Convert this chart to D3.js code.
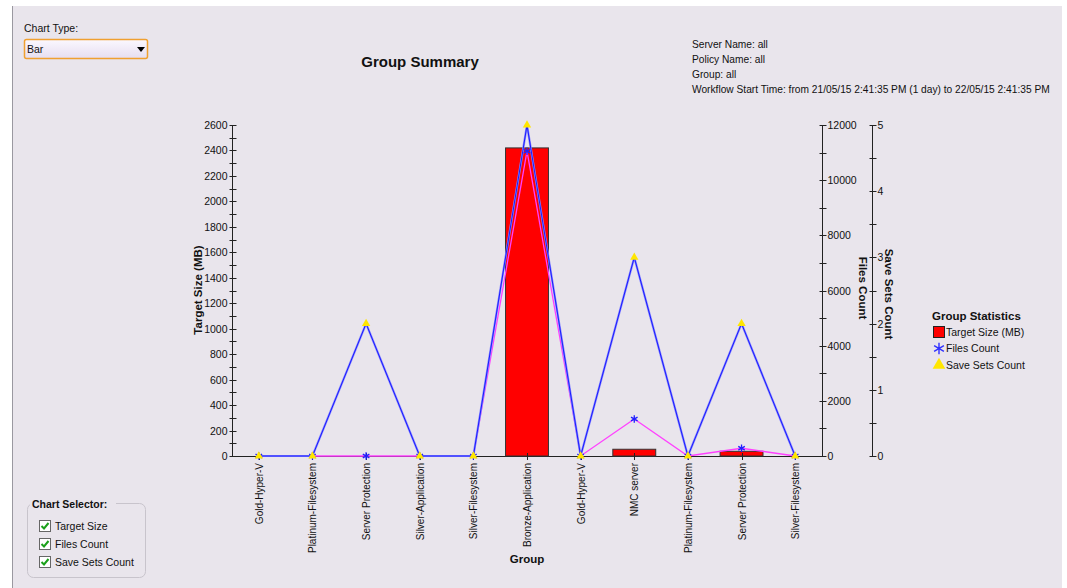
<!DOCTYPE html>
<html>
<head>
<meta charset="utf-8">
<script src="https://cdn.jsdelivr.net/npm/d3@7"></script>
<style>
  body { margin: 0; background: #fff; }
  svg text { font-family: "Liberation Sans", Arial, sans-serif; font-size: 11px; fill: #111; }
</style>
</head>
<body>
<svg id="chart" width="1067" height="588"></svg>
<script>
// data
var groups = ['Gold-Hyper-V', 'Platinum-Filesystem', 'Server Protection', 'Silver-Application',
  'Silver-Filesystem', 'Bronze-Application', 'Gold-Hyper-V', 'NMC server',
  'Platinum-Filesystem', 'Server Protection', 'Silver-Filesystem']
var targetSize = [0, 0, 0, 0, 0, 2420, 0, 53, 0, 37, 0]
var filesCount = [0, 0, 0, 0, 0, 11050, 0, 1340, 0, 280, 0]
var saveSets = [0, 0, 2, 0, 0, 5, 0, 3, 0, 2, 0]
var infoLines = ['Server Name: all', 'Policy Name: all', 'Group: all',
  'Workflow Start Time: from 21/05/15 2:41:35 PM (1 day) to 22/05/15 2:41:35 PM']
var legendItems = ['Target Size (MB)', 'Files Count', 'Save Sets Count']
var selectorItems = ['Target Size', 'Files Count', 'Save Sets Count']

var svg = d3.select('#chart')

// panel background
svg.append('rect').attr('x', 12).attr('y', 6).attr('width', 1050).attr('height', 582).attr('fill', '#e9e5ec')
svg.append('line').attr('x1', 12.5).attr('x2', 12.5).attr('y1', 6).attr('y2', 588).attr('stroke', '#9a98a0')

// chart type dropdown
svg.append('text').attr('x', 24).attr('y', 32).style('font-size', '10.5px').text('Chart Type:')
var grad = svg.append('defs').append('linearGradient').attr('id', 'dd').attr('x1', 0).attr('x2', 0).attr('y1', 0).attr('y2', 1)
grad.append('stop').attr('offset', '0%').attr('stop-color', '#fbf8ff')
grad.append('stop').attr('offset', '100%').attr('stop-color', '#e6def0')
svg.append('rect').attr('x', 24.5).attr('y', 39.5).attr('width', 123).attr('height', 19).attr('rx', 2)
  .attr('fill', 'url(#dd)').attr('stroke', '#f0a030').attr('stroke-width', 1.5)
svg.append('text').attr('x', 27).attr('y', 53).style('font-size', '10.5px').text('Bar')
svg.append('path').attr('d', 'M137,47 L145,47 L141,52 Z').attr('fill', '#000')

// title + info
svg.append('text').attr('x', 420).attr('y', 67).attr('text-anchor', 'middle')
  .style('font-size', '15px').style('font-weight', 'bold').text('Group Summary')
svg.append('g').selectAll('text').data(infoLines).enter().append('text')
  .attr('x', 692).attr('y', function (d, i) { return 48 + i * 15 }).style('font-size', '10.2px').text(function (d) { return d })

// scales
var x = d3.scaleBand().domain(d3.range(groups.length)).range([232, 822])
var ySize = d3.scaleLinear().domain([0, 2600]).range([456, 125])
var yFiles = d3.scaleLinear().domain([0, 12000]).range([456, 125])
var ySets = d3.scaleLinear().domain([0, 5]).range([456, 125])

function axisCustom(g, scale, step, labelEvery, side) {
  var vals = d3.range(scale.domain()[0], scale.domain()[1] + step / 2, step)
  var t = g.selectAll('g').data(vals).enter().append('g')
    .attr('transform', function (d) { return 'translate(0,' + (Math.round(scale(d)) + 0.5) + ')' })
  t.append('line').attr('x1', -3).attr('x2', 4).attr('stroke', '#222')
  t.filter(function (d, i) { return i % labelEvery === 0 }).append('text')
    .attr('x', side === 'left' ? -5 : 5).attr('dy', '0.35em')
    .attr('text-anchor', side === 'left' ? 'end' : 'start')
    .style('font-size', '10.5px')
    .text(function (d) { return d })
  g.append('line').attr('y1', 125).attr('y2', 456).attr('stroke', '#222')
}

axisCustom(svg.append('g').attr('transform', 'translate(232.5,0)'), ySize, 100, 2, 'left')
axisCustom(svg.append('g').attr('transform', 'translate(822.5,0)'), yFiles, 1000, 2, 'right')
axisCustom(svg.append('g').attr('transform', 'translate(872.5,0)'), ySets, 0.5, 2, 'right')

// x axis line
svg.append('line').attr('x1', 232).attr('x2', 822).attr('y1', 456.5).attr('y2', 456.5).attr('stroke', '#222')

// axis titles
svg.append('text').attr('transform', 'translate(202,290) rotate(-90)').attr('text-anchor', 'middle')
  .style('font-weight', 'bold').style('font-size', '11.5px').text('Target Size (MB)')
svg.append('text').attr('transform', 'translate(859,288) rotate(90)').attr('text-anchor', 'middle')
  .style('font-weight', 'bold').style('font-size', '11.5px').text('Files Count')
svg.append('text').attr('transform', 'translate(885,294) rotate(90)').attr('text-anchor', 'middle')
  .style('font-weight', 'bold').style('font-size', '11.5px').text('Save Sets Count')
svg.append('text').attr('x', 527).attr('y', 563).attr('text-anchor', 'middle')
  .style('font-weight', 'bold').style('font-size', '11.5px').text('Group')

// bars
var bw = x.bandwidth() * 0.8
svg.append('g').selectAll('rect').data(targetSize).enter().filter(function (d) { return d > 0 })
  .append('rect')
  .attr('x', function (d) { return x(targetSize.indexOf(d)) + (x.bandwidth() - bw) / 2 })
  .attr('y', function (d) { return ySize(d) })
  .attr('width', bw)
  .attr('height', function (d) { return 456 - ySize(d) })
  .attr('fill', '#ff0000').attr('stroke', '#333').attr('stroke-width', 1)

// x tick marks + labels
var cx = function (i) { return x(i) + x.bandwidth() / 2 }
var xt = svg.append('g').selectAll('g').data(groups).enter().append('g')
  .attr('transform', function (d, i) { return 'translate(' + (Math.round(cx(i)) + 0.5) + ',456)' })
xt.append('line').attr('y1', -3).attr('y2', 4).attr('stroke', '#222')
xt.append('text').attr('transform', 'rotate(-90)').attr('x', -7).attr('dy', '0.35em')
  .attr('text-anchor', 'end').style('font-size', '10px').text(function (d) { return d })

// lines
var lineFiles = d3.line().x(function (d, i) { return cx(i) }).y(function (d) { return yFiles(d) })
var lineSets = d3.line().x(function (d, i) { return cx(i) }).y(function (d) { return ySets(d) })
svg.append('path').datum(filesCount).attr('d', lineFiles).attr('fill', 'none')
  .attr('stroke', '#ff40ff').attr('stroke-width', 1.3)
svg.append('path').datum(saveSets).attr('d', lineSets).attr('fill', 'none')
  .attr('stroke', '#8888ff').attr('stroke-width', 2.2)
svg.append('path').datum(saveSets).attr('d', lineSets).attr('fill', 'none')
  .attr('stroke', '#1a1aff').attr('stroke-width', 1)

// markers
var star = d3.symbol().type(d3.symbolAsterisk).size(40)
var tri = d3.symbol().type(d3.symbolTriangle).size(30)
svg.append('g').selectAll('path').data(filesCount).enter().append('path')
  .attr('d', star).attr('stroke', '#2020ff').attr('stroke-width', 1.3).attr('fill', 'none')
  .attr('transform', function (d, i) { return 'translate(' + cx(i) + ',' + yFiles(d) + ')' })
svg.append('g').selectAll('path').data(saveSets).enter().append('path')
  .attr('d', tri).attr('fill', '#ffe600')
  .attr('transform', function (d, i) { return 'translate(' + cx(i) + ',' + ySets(d) + ')' })

// legend
var lg = svg.append('g').attr('transform', 'translate(932,0)')
lg.append('text').attr('x', 0).attr('y', 320).style('font-weight', 'bold').style('font-size', '11.5px').text('Group Statistics')
var li = lg.selectAll('g').data(legendItems).enter().append('g')
  .attr('transform', function (d, i) { return 'translate(0,' + (332 + i * 16.5) + ')' })
li.append('text').attr('x', 14).attr('dy', '0.35em').style('font-size', '10.5px').text(function (d) { return d })
li.filter(function (d, i) { return i === 0 }).append('rect').attr('x', 1.5).attr('y', -5.5).attr('width', 11).attr('height', 11)
  .attr('fill', '#ff0000').attr('stroke', '#222')
li.filter(function (d, i) { return i === 1 }).append('path').attr('d', d3.symbol().type(d3.symbolAsterisk).size(90))
  .attr('transform', 'translate(7,0)').attr('stroke', '#3030ff').attr('stroke-width', 1.4).attr('fill', 'none')
li.filter(function (d, i) { return i === 2 }).append('path').attr('d', d3.symbol().type(d3.symbolTriangle).size(70))
  .attr('transform', 'translate(7,0)').attr('fill', '#ffe600')

// chart selector
svg.append('rect').attr('x', 27.5).attr('y', 503.5).attr('width', 118).attr('height', 74).attr('rx', 6)
  .attr('fill', 'none').attr('stroke', '#c8c4cc')
svg.append('rect').attr('x', 30).attr('y', 498).attr('width', 86).attr('height', 12).attr('fill', '#e9e5ec')
svg.append('text').attr('x', 32).attr('y', 508).style('font-weight', 'bold').style('font-size', '10.5px').text('Chart Selector:')
var cb = svg.append('g').selectAll('g').data(selectorItems).enter().append('g')
  .attr('transform', function (d, i) { return 'translate(39,' + (520 + i * 18) + ')' })
cb.append('rect').attr('x', 0.5).attr('y', 0.5).attr('width', 11).attr('height', 11).attr('fill', '#fff').attr('stroke', '#666')
cb.append('path').attr('d', 'M2.5,6 L5,8.5 L9.5,3').attr('fill', 'none').attr('stroke', '#1aa01a').attr('stroke-width', 2)
cb.append('text').attr('x', 16).attr('y', 10).style('font-size', '10.5px').text(function (d) { return d })
</script>
</body>
</html>
